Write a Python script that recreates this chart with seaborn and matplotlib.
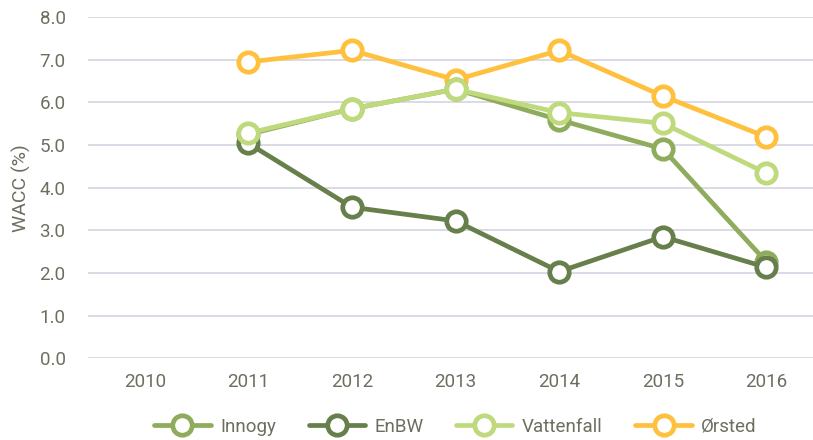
import pandas as pd
import matplotlib.pyplot as plt
import seaborn as sns

years = [2011, 2012, 2013, 2014, 2015, 2016]
innogy = [5.25, 5.85, 6.31, 5.59, 4.91, 2.26]
enbw = [5.04, 3.54, 3.22, 2.03, 2.85, 2.13]
vattenfall = [5.28, 5.85, 6.31, 5.76, 5.51, 4.34]
orsted = [6.95, 7.22, 6.53, 7.22, 6.15, 5.19]

companies = ["Innogy", "EnBW", "Vattenfall", "Ørsted"]
colors = ["#8fab5c", "#667f4b", "#bfda7d", "#ffc03d"]
zorders = [3, 4, 5, 2]
series = [innogy, enbw, vattenfall, orsted]

rows = []
for name, vals in zip(companies, series):
    for y, v in zip(years, vals):
        rows.append({"Year": y, "WACC": v, "Company": name})
df = pd.DataFrame(rows)

sns.set_style("white")
plt.rcParams["font.family"] = ["Roboto", "DejaVu Sans"]
text_color = "#6e6e60"

fig = plt.figure(figsize=(8.13, 4.40), dpi=100)
ax = fig.add_axes([0.108, 0.186, 0.892, 0.775])

for name, col, z in zip(companies, colors, zorders):
    sub = df[df["Company"] == name]
    sns.lineplot(data=sub, x="Year", y="WACC", ax=ax, color=col, linewidth=3.4,
                 marker="o", markersize=14, markerfacecolor="white",
                 markeredgecolor=col, markeredgewidth=3.4, label=name, zorder=z)

ax.set_xlim(2009.45, 2016.45)
ax.set_ylim(0, 8)
ax.set_xticks(range(2010, 2017))
ax.set_yticks(range(0, 9))
ax.set_yticklabels([f"{v:.1f}" for v in range(0, 9)])
ax.yaxis.grid(True, color="#d4d4e0", linewidth=1.2)
ax.xaxis.grid(False)
for s in ax.spines.values():
    s.set_visible(False)
ax.tick_params(axis="both", length=0, labelsize=13.5, colors=text_color)
ax.tick_params(axis="x", pad=11)
ax.tick_params(axis="y", pad=16)
ax.set_xlabel("")
ax.set_ylabel("WACC (%)", fontsize=14, color=text_color, labelpad=6)

ax.legend(loc="upper center", bbox_to_anchor=(0.507, -0.125), ncol=4, frameon=False,
          fontsize=13.5, labelcolor=text_color, handlelength=3.0, columnspacing=1.75,
          handletextpad=0.5)

fig.savefig("out.png", dpi=100)
